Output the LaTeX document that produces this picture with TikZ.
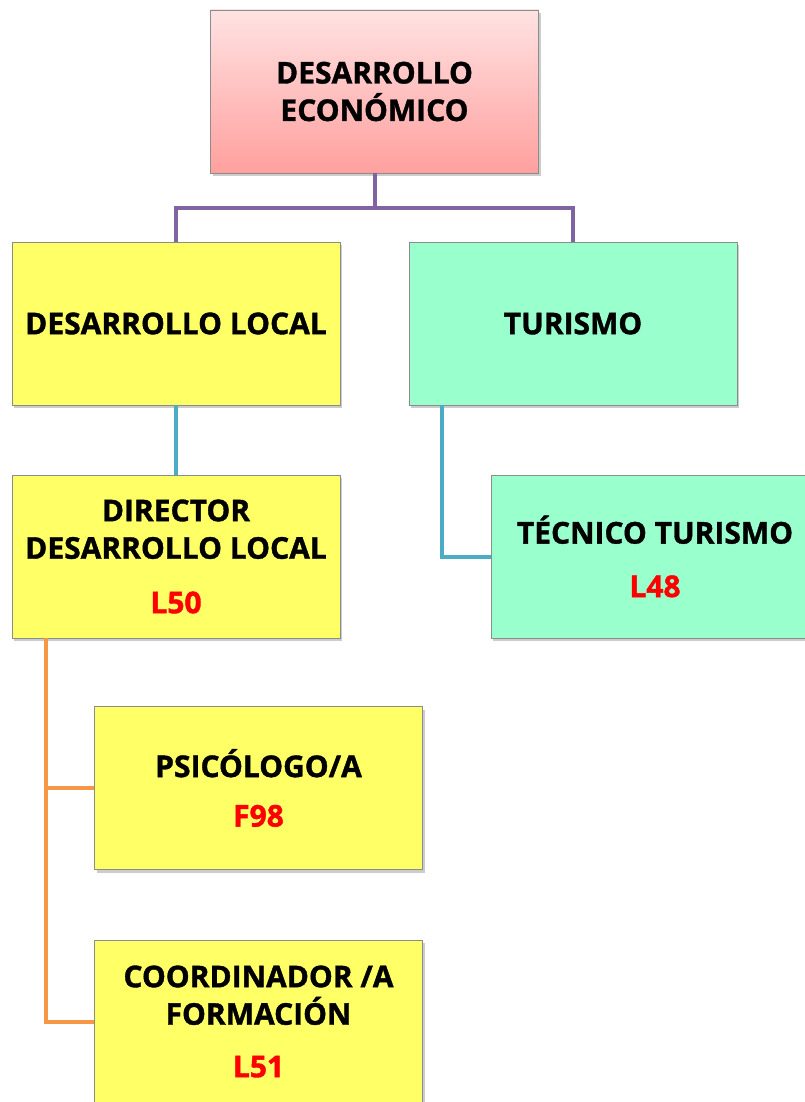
\documentclass[tikz,border=0pt]{standalone}
\usepackage{fontspec}
\setmainfont{Open Sans}[BoldFeatures={FakeBold=1.2}]
\usetikzlibrary{shadows,calc}
\definecolor{pinktop}{HTML}{FFE2E2}
\definecolor{pinkbot}{HTML}{FFA09E}
\definecolor{yel}{HTML}{FFFF66}
\definecolor{mint}{HTML}{99FFCC}
\definecolor{boxgray}{HTML}{8C8C8C}
\definecolor{purp}{HTML}{8064A2}
\definecolor{bluel}{HTML}{4BACC6}
\definecolor{orl}{HTML}{F79646}
\definecolor{redt}{HTML}{FF0000}
\begin{document}
\begin{tikzpicture}[x=1pt,y=1pt,
  box/.style={draw=boxgray, line width=0.8pt, minimum width=328pt, minimum height=163pt,
    align=center, inner sep=0pt, font=\fontsize{30}{37.5}\selectfont\bfseries,
    drop shadow={opacity=0.4, shadow xshift=2pt, shadow yshift=-3pt}},
  conn/.style={line width=4pt}
]
\clip (0,0) rectangle (805,-1102);
\node[box, top color=pinktop, bottom color=pinkbot] (de) at (374.5,-91.5) {DESARROLLO\\ECONÓMICO};
\node[box, fill=yel] (dl) at (176,-323.5) {DESARROLLO LOCAL};
\node[box, fill=mint] (tu) at (573,-323.5) {TURISMO};
\node[box, fill=yel] (di) at (176,-556.5) {DIRECTOR\\DESARROLLO LOCAL\\[17pt]\textcolor{redt}{L50}};
\node[box, fill=mint] (tt) at (655,-556.5) {TÉCNICO TURISMO\\[16pt]\textcolor{redt}{L48}};
\node[box, fill=yel] (ps) at (258.5,-788) {PSICÓLOGO/A\\[12pt]\textcolor{redt}{F98}};
\node[box, fill=yel] (co) at (258.5,-1021.5) {COORDINADOR /A\\FORMACIÓN\\[15pt]\textcolor{redt}{L51}};
\coordinate (pj) at ($(de.south)+(0,-35)$);
\draw[conn, purp] (de.south) -- (pj) -| (dl.north);
\draw[conn, purp] (pj) -| (tu.north);
\draw[conn, bluel] (dl.south) -- (di.north);
\draw[conn, bluel] ($(tu.south west)+(33,0)$) |- (tt.west);
\draw[conn, orl] ($(di.south west)+(34,0)$) |- (ps.west);
\draw[conn, orl] ($(di.south west)+(34,0)$) |- (co.west);
\end{tikzpicture}
\end{document}
